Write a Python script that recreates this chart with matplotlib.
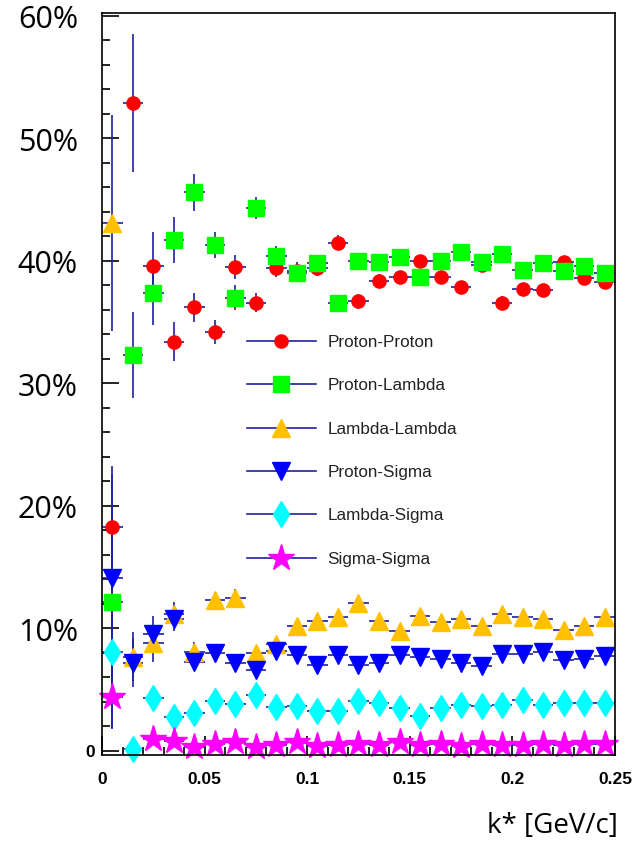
import numpy as np
import matplotlib.pyplot as plt
from matplotlib.lines import Line2D
from matplotlib.ticker import MultipleLocator

# bin centres of k* [GeV/c]
kstar = np.arange(0.005, 0.25, 0.01)

names = ['Proton-Proton', 'Proton-Lambda', 'Lambda-Lambda',
         'Proton-Sigma', 'Lambda-Sigma', 'Sigma-Sigma']

pp = [0.183, 0.529, 0.396, 0.334, 0.362, 0.342, 0.395, 0.366, 0.394, 0.392,
      0.394, 0.415, 0.367, 0.384, 0.387, 0.400, 0.387, 0.379, 0.397, 0.366,
      0.377, 0.376, 0.399, 0.386, 0.383]
pp_err = [0.05, 0.056, 0.028, 0.016, 0.012, 0.010, 0.010, 0.008, 0.007, 0.007,
          0.006, 0.006, 0.006, 0.005, 0.005, 0.005, 0.005, 0.005, 0.005, 0.005,
          0.004, 0.004, 0.004, 0.004, 0.004]

pl = [0.122, 0.323, 0.374, 0.417, 0.456, 0.413, 0.370, 0.443, 0.404, 0.390,
      0.398, 0.366, 0.400, 0.399, 0.403, 0.387, 0.400, 0.407, 0.399, 0.406,
      0.393, 0.398, 0.392, 0.396, 0.390]
pl_err = [0.104, 0.035, 0.026, 0.019, 0.015, 0.011, 0.010, 0.009, 0.008, 0.007,
          0.007, 0.006, 0.006, 0.006, 0.005, 0.005, 0.005, 0.005, 0.005, 0.005,
          0.004, 0.004, 0.004, 0.004, 0.004]

ll = [0.431, 0.077, 0.088, 0.112, 0.081, 0.123, 0.125, 0.080, 0.087, 0.102,
      0.106, 0.109, 0.121, 0.106, 0.098, 0.110, 0.105, 0.108, 0.102, 0.112,
      0.109, 0.108, 0.099, 0.102, 0.109]
ll_err = [0.088, 0.020, 0.015, 0.010, 0.008, 0.007, 0.007, 0.006, 0.005, 0.005,
          0.005, 0.005, 0.005, 0.005, 0.005, 0.005, 0.005, 0.005, 0.005, 0.005,
          0.005, 0.005, 0.005, 0.005, 0.005]

ps = [0.141, 0.072, 0.0955, 0.108, 0.073, 0.080, 0.072, 0.066, 0.082, 0.078,
      0.070, 0.078, 0.0705, 0.0715, 0.078, 0.077, 0.075, 0.0715, 0.069, 0.079,
      0.079, 0.081, 0.074, 0.075, 0.0775]
ps_err = [0.05, 0.020, 0.015, 0.010, 0.008, 0.007, 0.006, 0.006, 0.005, 0.005,
          0.005, 0.005, 0.005, 0.005, 0.004, 0.004, 0.004, 0.004, 0.004, 0.004,
          0.004, 0.004, 0.004, 0.004, 0.004]

ls_ = [0.081, 0.002, 0.043, 0.028, 0.031, 0.041, 0.038, 0.046, 0.036, 0.0365,
       0.033, 0.033, 0.041, 0.039, 0.035, 0.0286, 0.035, 0.0375, 0.0367, 0.0375,
       0.042, 0.0375, 0.039, 0.039, 0.039]
ls_err = [0.03, 0.004, 0.006, 0.005, 0.004, 0.004, 0.004, 0.004, 0.003, 0.003,
          0.003, 0.003, 0.003, 0.003, 0.003, 0.003, 0.003, 0.003, 0.003, 0.003,
          0.003, 0.003, 0.003, 0.003, 0.003]

ss = [0.044, np.nan, 0.010, 0.008, 0.0035, 0.006, 0.0076, 0.0035, 0.005, 0.0076,
      0.004, 0.005, 0.006, 0.005, 0.007, 0.005, 0.006, 0.004, 0.006, 0.005,
      0.005, 0.006, 0.005, 0.006, 0.006]
ss_err = [0.025, 0.0, 0.004, 0.003, 0.002, 0.002, 0.002, 0.002, 0.002, 0.002,
          0.002, 0.002, 0.002, 0.002, 0.002, 0.002, 0.002, 0.002, 0.002, 0.002,
          0.002, 0.002, 0.002, 0.002, 0.002]

values = [pp, pl, ll, ps, ls_, ss]
errors = [pp_err, pl_err, ll_err, ps_err, ls_err, ss_err]
colors = ['#ff0000', '#00ff00', '#ffc000', '#0000ff', '#00ffff', '#ff00ff']
markers = ['o', 's', '^', 'v', 'd', '*']
sizes = [9.5, 11, 13, 13, 13, 20]
err_color = '#2020a0'

fig = plt.figure(figsize=(6.33, 8.42), dpi=100)
ax = fig.add_axes([102 / 633, 87 / 842, 513 / 633, 742 / 842])

handles = []
for y, e, c, m, s, n in zip(values, errors, colors, markers, sizes, names):
    ax.errorbar(kstar, y, xerr=0.005, yerr=e, fmt=m, ms=s, mfc=c, mec=c,
                ecolor=err_color, elinewidth=1.2, capsize=0, clip_on=False)
    handles.append(Line2D([], [], color=err_color, lw=1.2, marker=m, ms=s,
                          mfc=c, mec=c, label=n))

ax.set_xlim(0, 0.25)
ax.set_ylim(-0.0033, 0.6024)

for sp in ax.spines.values():
    sp.set_linewidth(1.2)
    sp.set_color('black')

ax.xaxis.set_major_locator(MultipleLocator(0.05))
ax.xaxis.set_minor_locator(MultipleLocator(0.01))
ax.yaxis.set_major_locator(MultipleLocator(0.1))
ax.yaxis.set_minor_locator(MultipleLocator(0.02))
ax.tick_params(axis='x', which='major', direction='in', length=14, width=1.2, pad=12)
ax.tick_params(axis='x', which='minor', direction='in', length=6, width=1.2)
ax.tick_params(axis='y', which='major', direction='in', length=12, width=1.2, pad=5)
ax.tick_params(axis='y', which='minor', direction='in', length=6, width=1.2)

ax.set_xticks([0, 0.05, 0.1, 0.15, 0.2, 0.25])
ax.set_xticklabels(['0', '0.05', '0.1', '0.15', '0.2', '0.25'],
                   fontfamily='Liberation Sans', fontweight='bold', fontsize=12.5)
ax.set_yticks([0, 0.1, 0.2, 0.3, 0.4, 0.5, 0.6])
ax.set_yticklabels(['0', '', '', '', '', '', ''],
                   fontfamily='Liberation Sans', fontweight='bold', fontsize=12.5)

pct_labels = ['10%', '20%', '30%', '40%', '50%', '60%']
pct_ticks = [0.1, 0.2, 0.3, 0.4, 0.5, 0.6]
for v, t in zip(pct_ticks, pct_labels):
    ax.text(-0.047, v - 0.0035, t, transform=ax.get_yaxis_transform(), ha='right',
            va='center', fontfamily='Open Sans', fontsize=22)

fig.text(618 / 633, 1 - 826 / 842, 'k* [GeV/c]', ha='right', va='center',
         fontfamily='Open Sans', fontsize=20)

ax.legend(handles=handles, loc='upper left', bbox_to_anchor=(0.283, 0.566),
          frameon=False, borderpad=0, borderaxespad=0, handlelength=4.0,
          handletextpad=0.7, labelspacing=1.66, labelcolor='#222222',
          prop={'family': 'Liberation Sans', 'size': 12.3})

fig.savefig('out.png', dpi=100)
